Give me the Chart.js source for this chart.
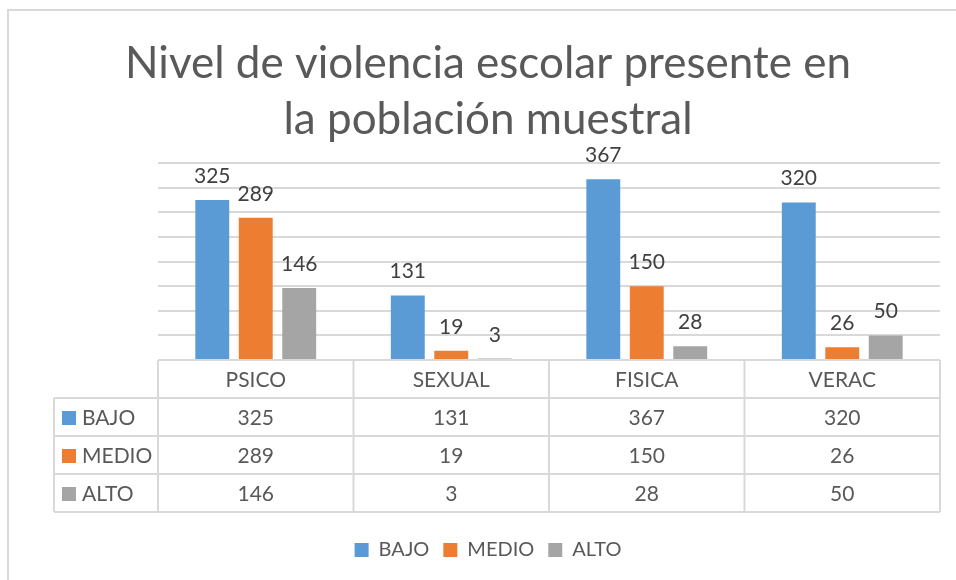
<!DOCTYPE html>
<html>
<head>
<meta charset="utf-8">
<script src="https://cdn.jsdelivr.net/npm/chart.js@4"></script>
<style>
  html, body { margin: 0; padding: 0; background: #fff; }
  #wrap { width: 956px; height: 580px; }
</style>
</head>
<body>
<div id="wrap"><canvas id="violenciaChart" width="956" height="580"></canvas></div>
<script>
const categorias = ["PSICO", "SEXUAL", "FISICA", "VERAC"];
const bajo = [325, 131, 367, 320];
const medio = [289, 19, 150, 26];
const alto = [146, 3, 28, 50];
const series = ["BAJO", "MEDIO", "ALTO"];
const colores = ["#5B9BD5", "#ED7D31", "#A5A5A5"];
const tituloLineas = ["Nivel de violencia escolar presente en", "la población muestral"];

const fuente = "Lato, 'Noto Sans', sans-serif";
const gris = "#595959";
const lineaGris = "#D9D9D9";

// outer frame of the chart (excel style)
const marcoPlugin = {
  id: "marco",
  beforeDraw(chart) {
    const ctx = chart.ctx;
    ctx.save();
    ctx.strokeStyle = lineaGris;
    ctx.lineWidth = 2;
    ctx.beginPath();
    ctx.moveTo(8, chart.height);
    ctx.lineTo(8, 10);
    ctx.lineTo(chart.width, 10);
    ctx.stroke();
    ctx.restore();
  }
};

// value labels above each bar
const etiquetasPlugin = {
  id: "etiquetas",
  afterDatasetsDraw(chart) {
    const ctx = chart.ctx;
    ctx.save();
    ctx.font = "21px " + fuente;
    ctx.fillStyle = "#404040";
    ctx.textAlign = "center";
    ctx.textBaseline = "alphabetic";
    chart.data.datasets.forEach((ds, i) => {
      const meta = chart.getDatasetMeta(i);
      meta.data.forEach((bar, j) => {
        ctx.fillText(ds.data[j], bar.x, bar.y - 17);
      });
    });
    ctx.restore();
  }
};

// data table under the plot, aligned to the x scale
const tablaPlugin = {
  id: "tabla",
  afterDraw(chart) {
    const ctx = chart.ctx;
    const xs = chart.scales.x;
    const left = xs.left;
    const right = xs.right;
    const top = chart.chartArea.bottom;
    const colW = (right - left) / categorias.length;
    const rowH = 38;
    const labelLeft = left - 104;
    const filas = chart.data.datasets;

    ctx.save();
    ctx.strokeStyle = lineaGris;
    ctx.lineWidth = 2;
    ctx.beginPath();
    ctx.moveTo(left, top);
    ctx.lineTo(right, top);
    for (let k = 1; k <= filas.length + 1; k++) {
      ctx.moveTo(labelLeft, top + rowH * k);
      ctx.lineTo(right, top + rowH * k);
    }
    for (let i = 0; i <= categorias.length; i++) {
      ctx.moveTo(left + colW * i, top);
      ctx.lineTo(left + colW * i, top + rowH * (filas.length + 1));
    }
    ctx.moveTo(labelLeft, top + rowH);
    ctx.lineTo(labelLeft, top + rowH * (filas.length + 1));
    ctx.stroke();

    ctx.font = "21px " + fuente;
    ctx.fillStyle = gris;
    ctx.textAlign = "center";
    ctx.textBaseline = "middle";
    categorias.forEach((c, i) => {
      ctx.fillText(c, xs.getPixelForValue(i), top + rowH / 2 + 1);
    });
    filas.forEach((ds, r) => {
      const yc = top + rowH * (r + 1) + rowH / 2 + 1;
      ds.data.forEach((v, i) => {
        ctx.fillStyle = gris;
        ctx.textAlign = "center";
        ctx.fillText(v, xs.getPixelForValue(i), yc);
      });
      ctx.fillStyle = ds.backgroundColor;
      ctx.fillRect(labelLeft + 8, yc - 7, 14, 14);
      ctx.fillStyle = gris;
      ctx.textAlign = "left";
      ctx.fillText(ds.label, labelLeft + 28, yc);
    });
    ctx.restore();
  }
};

const ctx = document.getElementById("violenciaChart").getContext("2d");

const myChart = new Chart(ctx, {
  type: "bar",
  data: {
    labels: categorias,
    datasets: [
      { label: series[0], data: bajo, backgroundColor: colores[0] },
      { label: series[1], data: medio, backgroundColor: colores[1] },
      { label: series[2], data: alto, backgroundColor: colores[2] },
    ],
  },
  options: {
    responsive: false,
    animation: false,
    categoryPercentage: 0.667,
    barPercentage: 0.78,
    layout: { padding: { left: 20, right: 0, top: 0, bottom: 10 } },
    plugins: {
      title: {
        display: true,
        text: tituloLineas,
        color: gris,
        font: { family: fuente, size: 44, weight: "normal", lineHeight: 1.273 },
        padding: { top: 36, bottom: 15 },
      },
      legend: {
        position: "bottom",
        labels: {
          color: gris,
          font: { family: fuente, size: 20 },
          boxWidth: 14,
          boxHeight: 14,
          padding: 14,
        },
      },
      tooltip: { enabled: false },
    },
    scales: {
      x: {
        grid: { display: false },
        border: { display: false },
        ticks: { display: false },
        afterFit(scale) { scale.height = 166; },
      },
      y: {
        min: 0,
        max: 400,
        ticks: { display: false, stepSize: 50 },
        grid: { color: lineaGris, lineWidth: 2, drawTicks: false },
        border: { display: false },
        afterFit(scale) { scale.width = 138; },
      },
      yR: {
        position: "right",
        display: true,
        grid: { display: false },
        ticks: { display: false },
        border: { display: false },
        afterFit(scale) { scale.width = 16; },
      },
    },
  },
  plugins: [marcoPlugin, etiquetasPlugin, tablaPlugin],
});
</script>
</body>
</html>
